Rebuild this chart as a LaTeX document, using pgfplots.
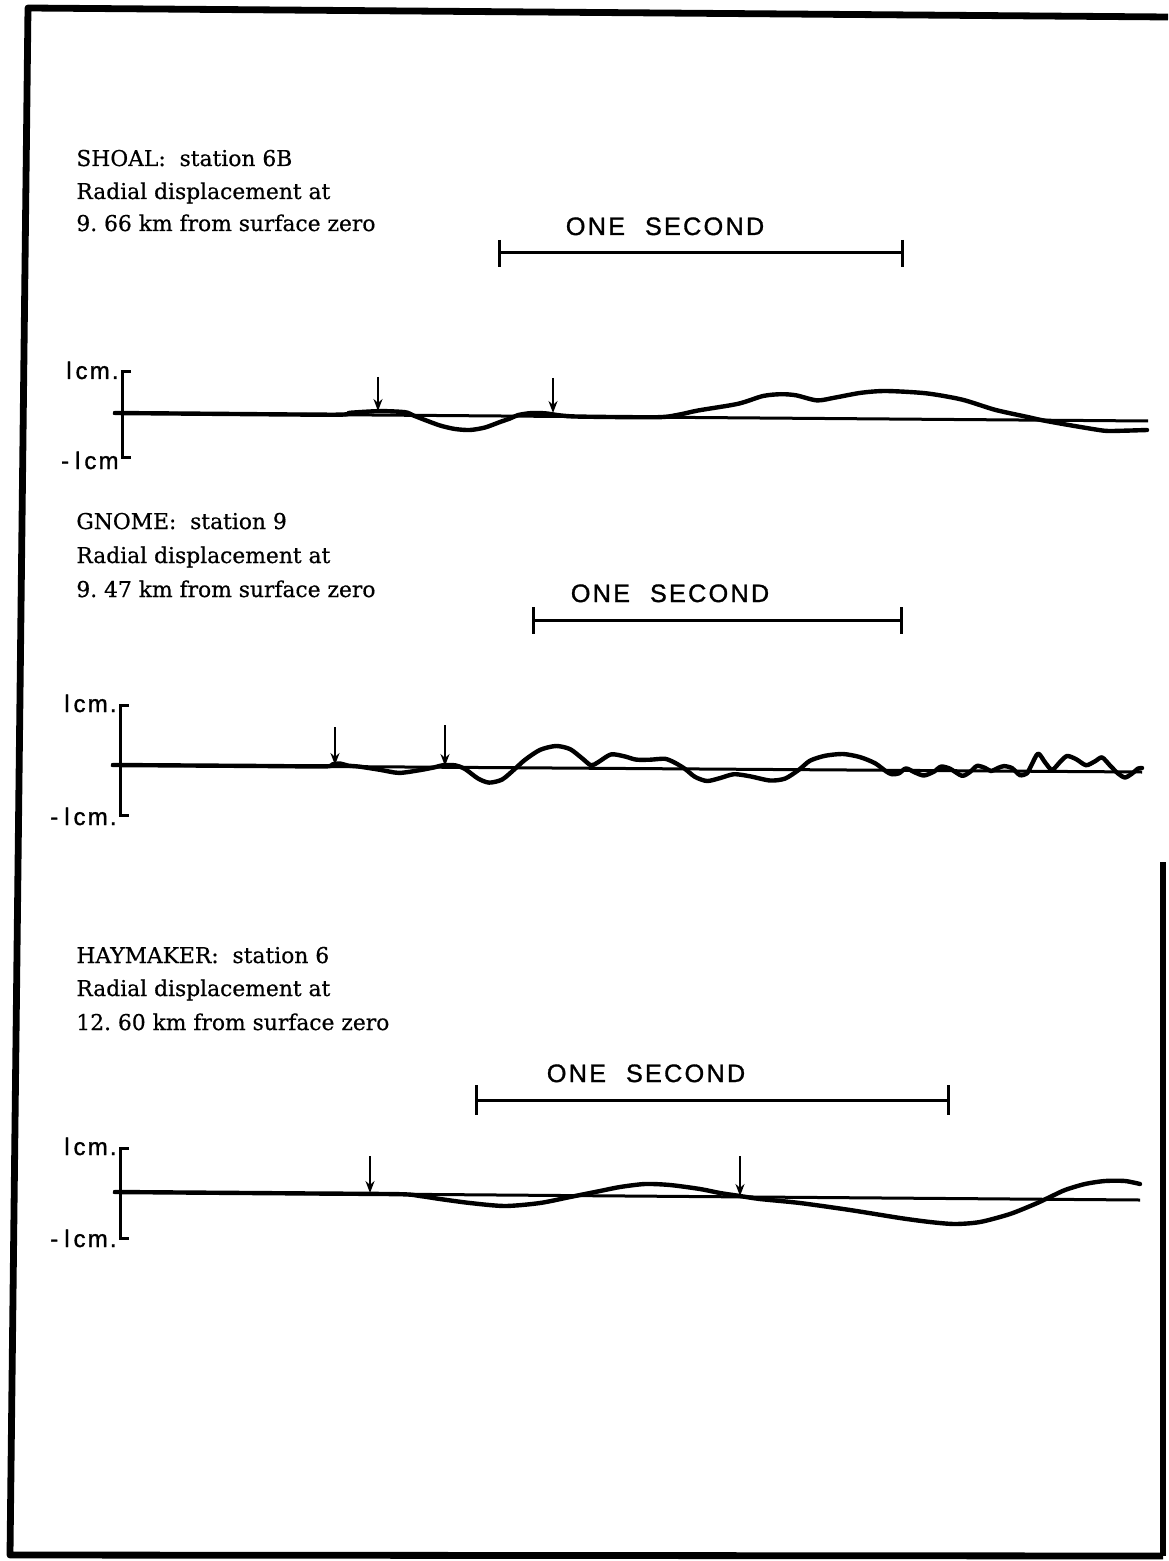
\documentclass[border=0pt]{standalone}
\usepackage{pgfplots}
\pgfplotsset{compat=1.18}
\usepackage{fontspec}
\usetikzlibrary{arrows.meta}
\setmainfont{DejaVu Serif}
\newfontfamily\typed{DejaVu Serif}[FakeBold=0.6]
\newfontfamily\lettering{Liberation Sans}[LetterSpace=9, FakeBold=1.2]

% text styles
\tikzset{
  caption/.style={anchor=base west, inner sep=0pt, font=\typed\fontsize{10.9pt}{12pt}\selectfont},
  second/.style={anchor=base, inner sep=0pt, font=\lettering\fontsize{12.6pt}{14pt}\selectfont},
  amplabel/.style={anchor=base east, inner sep=0pt, font=\lettering\fontsize{12pt}{14pt}\selectfont},
}
\pgfplotsset{
  trace/.style={black, line width=2.2pt, line cap=round, line join=round, smooth, tension=0.45, no markers},
  zero/.style={black, line width=1.5pt, no markers},
  bar/.style={black, line width=1.5pt, no markers},
  pick/.style={black, line width=0.9pt, no markers, -{Stealth[length=6pt,width=4.5pt]}},
}

\begin{document}
\begin{tikzpicture}
\begin{axis}[
  scale only axis, width=584pt, height=780.5pt,
  xmin=0, xmax=1168, ymin=0, ymax=1561, y dir=reverse,
  hide axis, clip=false,
]
% ---------- outer frame ----------
\addplot[black, line width=3.4pt, line join=round, no markers] coordinates {(1168,17) (28,8) (10,1555) (1163,1556)};
\addplot[black, line width=2.6pt, no markers] coordinates {(1163,1556) (1163,862)};

% ================= SHOAL =================
\node[caption] at (axis cs:76,166) {SHOAL:\ \ station 6B};
\node[caption] at (axis cs:76,199) {Radial displacement at};
\node[caption] at (axis cs:76,231) {9.\ 66 km from surface zero};
\node[second] at (axis cs:665,235) {ONE\hspace{10pt}SECOND};
\addplot[bar] coordinates {(499,253) (902,253)};
\addplot[bar] coordinates {(499,240) (499,267)};
\addplot[bar] coordinates {(902,240) (902,267)};
% amplitude scale
\addplot[bar] coordinates {(131,372) (122,372) (122,457) (131,457)};
\node[amplabel] at (axis cs:119,379) {l\,cm.};
\node[amplabel] at (axis cs:119,469) {-\hspace{3pt}l\,cm};
% zero line and record
\addplot[zero] coordinates {(113,413) (1148,421)};
\addplot[trace] coordinates {
 (115,413) (200,413.7) (336,414.7) (350,412.8) (380,411.1) (405,412.2) (413,415.3)
 (425,420) (440,425.5) (455,429) (470,430) (485,427.5) (500,422) (510,418.5)
 (518,415.1) (530,413.2) (545,413.3) (560,415.4) (580,416.6) (658,417.2) (680,414.4)
 (698,410.5) (738,403.8) (763,396) (781,394.2) (796,395.3) (817,400.4) (835,397.6)
 (861,392.8) (886,391) (926,393.3) (962,399.6) (995,409.8) (1028,417.1) (1042,420.2)
 (1071,425.4) (1104,430.7) (1120,430.8) (1147,430)};
\addplot[pick] coordinates {(378,377) (378,411)};
\addplot[pick] coordinates {(553,378) (553,413)};

% ================= GNOME =================
\node[caption] at (axis cs:76,529) {GNOME:\ \ station 9};
\node[caption] at (axis cs:76,563) {Radial displacement at};
\node[caption] at (axis cs:76,597) {9.\ 47 km from surface zero};
\node[second] at (axis cs:670,602) {ONE\hspace{10pt}SECOND};
\addplot[bar] coordinates {(533,620) (901,620)};
\addplot[bar] coordinates {(533,607) (533,634)};
\addplot[bar] coordinates {(901,607) (901,634)};
\addplot[bar] coordinates {(129,705) (120,705) (120,815) (129,815)};
\node[amplabel] at (axis cs:117,712) {l\,cm.};
\node[amplabel] at (axis cs:117,825) {-\hspace{3pt}l\,cm.};
\addplot[zero] coordinates {(111,765) (1142,772)};
\addplot[trace] coordinates {
 (113,765) (250,765.9) (325,766.4) (332,764.5) (340,763.5) (348,765.6) (360,766.7)
 (380,769.8) (399,772.9) (420,770.1) (435,767.2) (443,765.2) (455,765.3) (465,769)
 (478,778.5) (489,782.6) (502,779.6) (514,769.7) (525,759.8) (540,749.9) (556,746)
 (570,749.1) (582,758.2) (591,765.3) (598,762.3) (611,754.4) (625,756.5) (636,759.6)
 (650,759.7) (665,758.8) (675,762.8) (685,768.9) (695,776.9) (707,781) (720,778.1)
 (734,774.2) (750,776.3) (770,780.5) (785,778.6) (799,769.7) (810,760.7) (825,755.8)
 (843,754) (860,757.1) (875,763.2) (886,771.3) (892,774.3) (899,773.3) (906,768.4)
 (915,772.5) (924,775.5) (934,771.6) (941,766.6) (950,768.7) (962,775.8) (970,771.9)
 (977,765.9) (985,767.9) (991,771) (998,768) (1004,766.1) (1012,768.1) (1020,775.2)
 (1027,773.2) (1031,766) (1038,753.6) (1045,762.3) (1052,769.9) (1060,762) (1067,756)
 (1076,759.1) (1086,765.2) (1095,761.3) (1102,757.4) (1110,765.5) (1118,773.5)
 (1125,777.5) (1132,773.6) (1138,768.6) (1142,768)};
\addplot[pick] coordinates {(335,727) (335,765)};
\addplot[pick] coordinates {(445,725) (445,766)};

% ================= HAYMAKER =================
\node[caption] at (axis cs:76,963) {HAYMAKER:\ \ station 6};
\node[caption] at (axis cs:76,996) {Radial displacement at};
\node[caption] at (axis cs:76,1030) {12.\ 60 km from surface zero};
\node[second] at (axis cs:646,1082) {ONE\hspace{10pt}SECOND};
\addplot[bar] coordinates {(476,1100) (948,1100)};
\addplot[bar] coordinates {(476,1085) (476,1115)};
\addplot[bar] coordinates {(948,1085) (948,1115)};
\addplot[bar] coordinates {(129,1148) (120,1148) (120,1238) (129,1238)};
\node[amplabel] at (axis cs:117,1155) {l\,cm.};
\node[amplabel] at (axis cs:117,1247) {-\hspace{3pt}l\,cm.};
\addplot[zero] coordinates {(113,1192) (1140,1200)};
\addplot[trace] coordinates {
 (115,1192) (300,1193.4) (400,1194.2) (420,1196) (440,1199) (470,1203) (505,1206)
 (540,1203) (570,1197) (600,1191) (620,1187) (645,1184) (670,1185) (700,1189)
 (720,1193) (740,1196) (760,1199) (800,1203) (850,1210) (900,1218) (930,1222)
 (955,1224) (980,1222) (1010,1214) (1035,1204) (1050,1197) (1065,1190) (1085,1184)
 (1105,1181) (1125,1181) (1140,1184)};
\addplot[pick] coordinates {(370,1156) (370,1193)};
\addplot[pick] coordinates {(740,1156) (740,1196)};
\end{axis}
\pgfresetboundingbox
\path (current axis.south west) rectangle (current axis.north east);
\end{tikzpicture}
\end{document}
